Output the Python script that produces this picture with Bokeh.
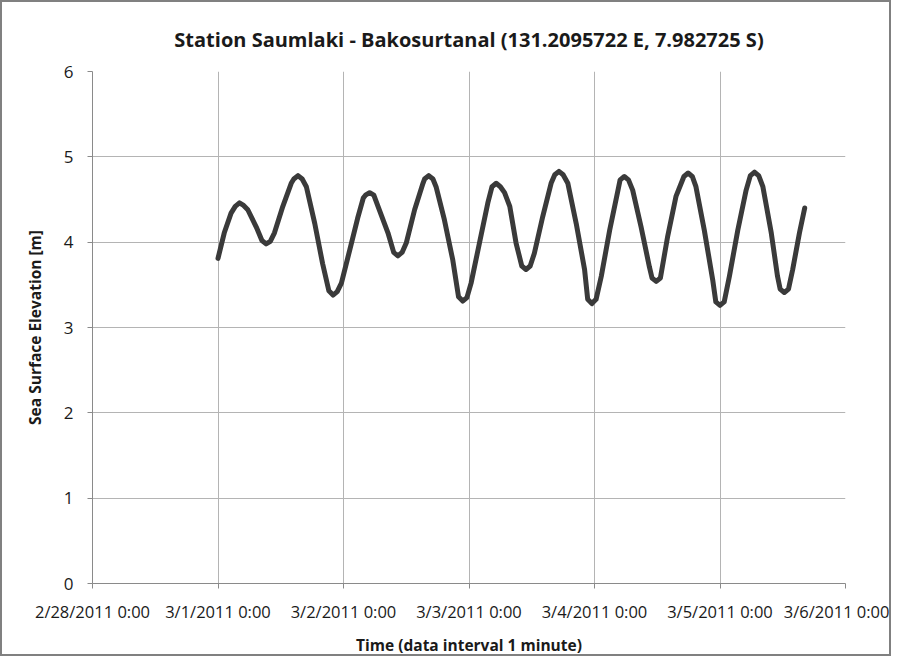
from bokeh.plotting import figure
from bokeh.models import FixedTicker, Range1d
from bokeh.embed import file_html
from bokeh.resources import INLINE

# Tick positions (hours since 2/28/2011 0:00) and their labels
tick_hours = [0, 24, 48, 72, 96, 120, 144]
tick_labels = ["2/28/2011 0:00", "3/1/2011 0:00", "3/2/2011 0:00", "3/3/2011 0:00",
               "3/4/2011 0:00", "3/5/2011 0:00", "3/6/2011 0:00"]
y_ticks = [0, 1, 2, 3, 4, 5, 6]

# Sea surface elevation (hours since 2/28/2011 0:00, metres)
time_h = [24.0, 25.2, 26.5, 27.3, 28.1, 28.9, 29.7, 31.3, 32.4, 33.2, 34.0, 34.8,
          36.4, 38.0, 38.5, 39.3, 40.1, 40.9, 42.5, 44.0, 45.2, 46.0, 46.8, 47.6,
          49.2, 50.7, 51.8, 52.2, 53.0, 53.8, 54.6, 56.5, 57.6, 58.4, 59.2, 60.0,
          61.6, 63.2, 63.5, 64.3, 65.1, 65.7, 67.3, 68.9, 70.0, 70.8, 71.6, 72.4,
          74.0, 75.6, 76.4, 77.2, 78.0, 78.8, 79.8, 81.0, 82.1, 82.9, 83.7, 84.5,
          86.1, 87.7, 88.4, 89.2, 90.0, 90.9, 92.5, 94.1, 94.7, 95.5, 96.3, 97.3,
          98.9, 100.5, 100.9, 101.7, 102.5, 103.3, 104.9, 106.5, 107.0, 107.8, 108.6,
          109.2, 110.0, 111.6, 113.1, 113.9, 114.7, 115.4, 117.0, 118.6, 119.2, 120.0,
          120.8, 121.8, 123.4, 125.0, 125.8, 126.6, 127.4, 128.2, 129.8, 131.0, 131.5,
          132.3, 133.1, 133.9, 135.2, 136.2]
elevation_m = [3.81, 4.11, 4.34, 4.42, 4.46, 4.43, 4.38, 4.18, 4.02, 3.98, 4.01, 4.11,
               4.42, 4.69, 4.74, 4.78, 4.74, 4.65, 4.22, 3.75, 3.43, 3.38, 3.42, 3.52,
               3.91, 4.28, 4.52, 4.55, 4.58, 4.55, 4.42, 4.11, 3.88, 3.84, 3.88, 3.99,
               4.38, 4.69, 4.74, 4.78, 4.74, 4.65, 4.26, 3.79, 3.36, 3.31, 3.35, 3.52,
               3.99, 4.46, 4.65, 4.69, 4.65, 4.58, 4.42, 3.99, 3.72, 3.68, 3.72, 3.87,
               4.30, 4.69, 4.79, 4.83, 4.79, 4.69, 4.22, 3.68, 3.33, 3.28, 3.33, 3.60,
               4.14, 4.61, 4.73, 4.77, 4.73, 4.61, 4.18, 3.71, 3.58, 3.54, 3.58,
               3.79, 4.07, 4.54, 4.77, 4.81, 4.77, 4.65, 4.14, 3.56, 3.30, 3.26,
               3.30, 3.60, 4.14, 4.61, 4.78, 4.82, 4.78, 4.65, 4.11, 3.60, 3.45,
               3.41, 3.45, 3.68, 4.11, 4.40]

FONT = "Open Sans"

p = figure(width=891, height=656, output_backend="svg", toolbar_location=None,
           x_range=Range1d(0, 144), y_range=Range1d(0, 6),
           min_border_left=90, min_border_right=48, min_border_top=69, min_border_bottom=72,
           title="Station Saumlaki - Bakosurtanal (131.2095722 E, 7.982725 S)",
           background_fill_color="white", border_fill_color="white",
           styles={"border": "2px solid #808080"})

p.title.align = "center"
p.title.text_font = FONT
p.title.text_font_size = "20px"
p.title.text_font_style = "bold"
p.title.text_color = "#1a1a1a"
p.title.standoff = 37

p.outline_line_color = None

p.line(time_h, elevation_m, line_color="#3a3a3a", line_width=5, line_join="round", line_cap="round")

for ax in (p.xaxis[0], p.yaxis[0]):
    ax.axis_line_color = "#8a8a8a"
    ax.major_tick_line_color = "#8a8a8a"
    ax.minor_tick_line_color = None
    ax.major_tick_in = 0
    ax.major_tick_out = 5
    ax.major_label_text_font = FONT
    ax.major_label_text_color = "#1a1a1a"
    ax.axis_label_text_font = FONT
    ax.axis_label_text_font_size = "15.5px"
    ax.axis_label_text_font_style = "bold"
    ax.axis_label_text_color = "#1a1a1a"

p.xaxis.ticker = FixedTicker(ticks=tick_hours)
p.xaxis.major_label_overrides = {h: lbl for h, lbl in zip(tick_hours, tick_labels)}
p.xaxis.major_label_text_font_size = "16.5px"
p.xaxis.axis_label = "Time (data interval 1 minute)"
p.xaxis.major_label_standoff = 11
p.xaxis.axis_label_standoff = 8

p.yaxis.ticker = FixedTicker(ticks=y_ticks)
p.yaxis.major_label_text_font_size = "17px"
p.yaxis.axis_label = "Sea Surface Elevation [m]"
p.yaxis.major_label_standoff = 14
p.yaxis.axis_label_standoff = 15

p.xgrid.ticker = FixedTicker(ticks=tick_hours)
p.ygrid.ticker = FixedTicker(ticks=y_ticks)
p.grid.grid_line_color = "#b4b4b4"
p.grid.grid_line_width = 1

open("out.html", "w").write(file_html(p, INLINE))
